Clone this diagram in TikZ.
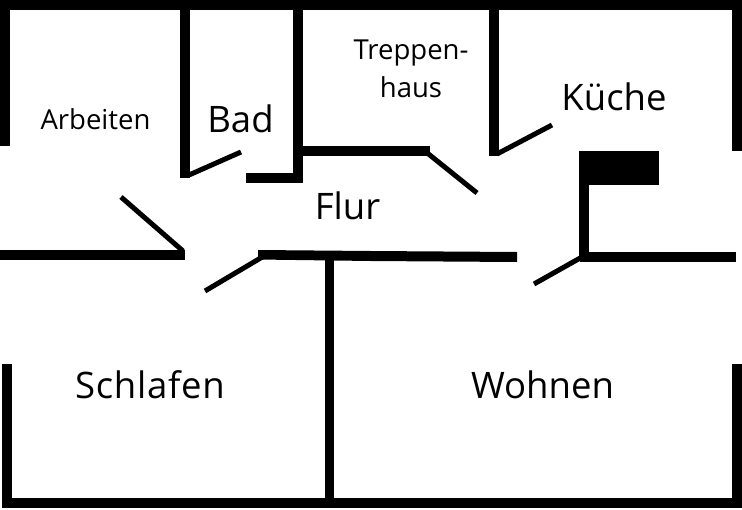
\documentclass[tikz,border=0pt]{standalone}
\usepackage{fontspec}
\setmainfont{Open Sans}
\tikzset{
  wall/.style={fill=black,draw=none},
  door/.style={draw=black,line width=5pt,line cap=butt},
  bigroom/.style={font=\fontsize{36.5}{36.5}\selectfont,inner sep=0pt,text=black},
  smallroom/.style={font=\fontsize{27.5}{38}\selectfont,inner sep=0pt,align=center,text=black}
}
\begin{document}
\begin{tikzpicture}[x=1pt,y=-1pt]
\useasboundingbox (0,0) rectangle (742,509);
\fill[white] (0,0) rectangle (742,509);
% top and upper walls
\fill[wall] (0,0) rectangle (742,9.5);
\fill[wall] (0,0) rectangle (10,146);
\fill[wall] (180,9) rectangle (190,178);
\fill[wall] (293,9) rectangle (303,173);
\fill[wall] (246,173) rectangle (302.5,183);
\fill[wall] (303,146) rectangle (430,156);
\fill[wall] (489,9) rectangle (499,156);
\fill[wall] (732,9) rectangle (742,151);
% chimney and kitchen wall
\fill[wall] (578.5,151) rectangle (659,185);
\fill[wall] (578.5,185) rectangle (589,257);
\fill[wall] (580,252) rectangle (736,262);
% corridor walls
\fill[wall] (0,250) rectangle (185,259.5);
\fill[wall] (258,250) -- (371,251) -- (517,252) -- (517,262) -- (371,261) -- (258,259.5) -- cycle;
\fill[wall] (324.5,255) rectangle (334,500);
% lower walls
\fill[wall] (2,364) rectangle (12,508);
\fill[wall] (732,364) rectangle (742,508);
\fill[wall] (2,498) rectangle (742,508);
% doors
\coordinate (d1a) at (189,175); \coordinate (d1b) at (241,152);
\coordinate (d2a) at (426,152); \coordinate (d2b) at (477,193);
\coordinate (d3a) at (497,154); \coordinate (d3b) at (552,125);
\coordinate (d4a) at (183,251); \coordinate (d4b) at (121,197);
\coordinate (d5a) at (264,256); \coordinate (d5b) at (205,291);
\coordinate (d6a) at (582,257); \coordinate (d6b) at (534,284);
\draw[door] (d1a) -- (d1b);
\draw[door] (d2a) -- (d2b);
\draw[door] (d3a) -- (d3b);
\draw[door] (d4a) -- (d4b);
\draw[door] (d5a) -- (d5b);
\draw[door] (d6a) -- (d6b);
% labels
\node[smallroom,anchor=base] (arbeiten) at (95.5,129) {Arbeiten};
\node[bigroom,anchor=base] (bad) at (240.5,132) {Bad};
\node[smallroom,anchor=base] (treppen) at (411,97) {Treppen-\\haus};
\node[bigroom,anchor=base] (kueche) at (614,110) {Küche};
\node[bigroom,anchor=base] (flur) at (347.5,219) {Flur};
\node[bigroom,anchor=base] (schlafen) at (150,398) {\addfontfeature{LetterSpace=2}Schlafen};
\node[bigroom,anchor=base] (wohnen) at (542.5,398) {Wohnen};
\end{tikzpicture}
\end{document}
